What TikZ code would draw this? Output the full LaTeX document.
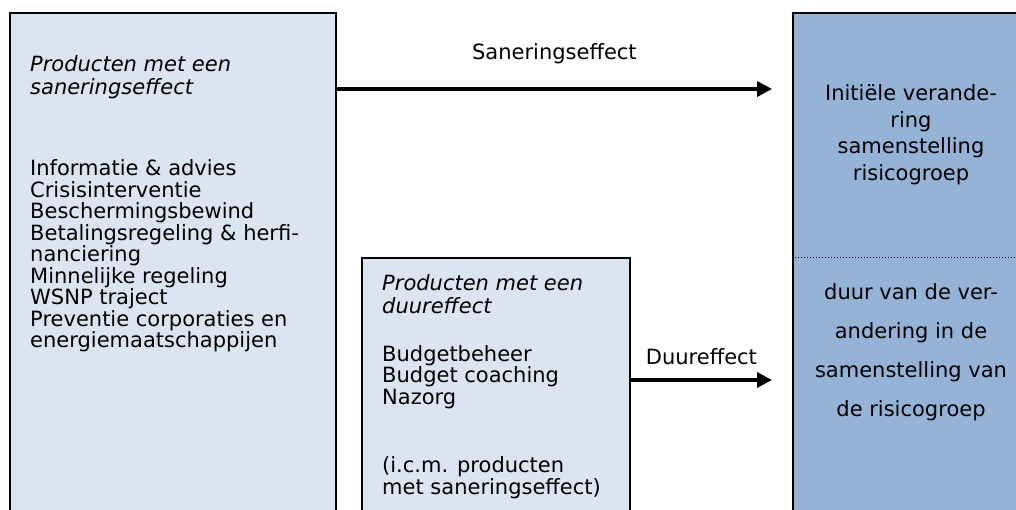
\documentclass[tikz,border=0pt]{standalone}
\usepackage{fontspec}
\setmainfont{DejaVu Sans}
\usetikzlibrary{arrows.meta, positioning}

\definecolor{lichtblauw}{HTML}{DBE5F1}
\definecolor{donkerblauw}{HTML}{95B3D7}

\begin{document}
\begin{tikzpicture}[x=1pt,y=1pt,
	box/.style={draw,line width=1.8pt,anchor=north west,inner sep=0pt},
	txt/.style={anchor=north west,align=left,inner sep=0pt,font=\fontsize{21}{21.5}\selectfont},
	kop/.style={txt,font=\fontsize{21}{23}\selectfont\itshape},
	effect/.style={-{Triangle[length=15pt,width=15pt]},line width=3.5pt}]
	\clip (0,0) rectangle (1016,510);
	
	\node[box,fill=lichtblauw,minimum width=326pt,minimum height=530pt] (sanbox) at (9,498) {};
	\node[box,fill=lichtblauw,minimum width=268pt,minimum height=290pt] (duurbox) at (361,253) {};
	\node[box,fill=donkerblauw,minimum width=300pt,minimum height=530pt] (risbox) at (792,498) {};
	
	\node[kop] (santitel) [below right=43.5pt and 21pt of sanbox.north west] {Producten met een\\saneringseffect};
	\node[txt] (sanlijst) [below right=147.5pt and 21pt of sanbox.north west] {Informatie \& advies\\Crisisinterventie\\Beschermingsbewind\\Betalingsregeling \& herfi-\\nanciering\\Minnelijke regeling\\WSNP traject\\Preventie corporaties en\\energiemaatschappijen};
	
	\node[kop] (duurtitel) [below right=17.5pt and 21pt of duurbox.north west] {Producten met een\\duureffect};
	\node[txt] (duurlijst) [below right=88pt and 21pt of duurbox.north west] {Budgetbeheer\\Budget coaching\\Nazorg};
	\node[txt] (duurnoot) [below right=199.5pt and 21pt of duurbox.north west] {(i.c.m. producten\\met saneringseffect)};
	
	\node[txt,anchor=north,align=center,font=\fontsize{21}{26.5}\selectfont] (initieel) at ([xshift=119pt,yshift=-72.5pt]risbox.north west) {Initiële verande-\\ring\\samenstelling\\risicogroep};
	\node[txt,anchor=north,align=center,font=\fontsize{21}{39}\selectfont] (duur) at ([xshift=119pt,yshift=-271.5pt]risbox.north west) {duur van de ver-\\andering in de\\samenstelling van\\de risicogroep};
	
	\coordinate (deler) at (792,252);
	\draw[dotted,line width=1pt] (deler) -- (deler -| risbox.east);
	
	\coordinate (sanpijl) at (772,421);
	\coordinate (duurpijl) at (772,130);
	\draw[effect] (sanbox.east |- sanpijl) -- node[above=23pt,inner sep=0pt,font=\fontsize{21}{21.5}\selectfont] (sanlabel) {Saneringseffect} (sanpijl);
	\draw[effect] (duurbox.east |- duurpijl) -- node[above=13pt,inner sep=0pt,font=\fontsize{21}{21.5}\selectfont] (duurlabel) {Duureffect} (duurpijl);
\end{tikzpicture}
\end{document}
